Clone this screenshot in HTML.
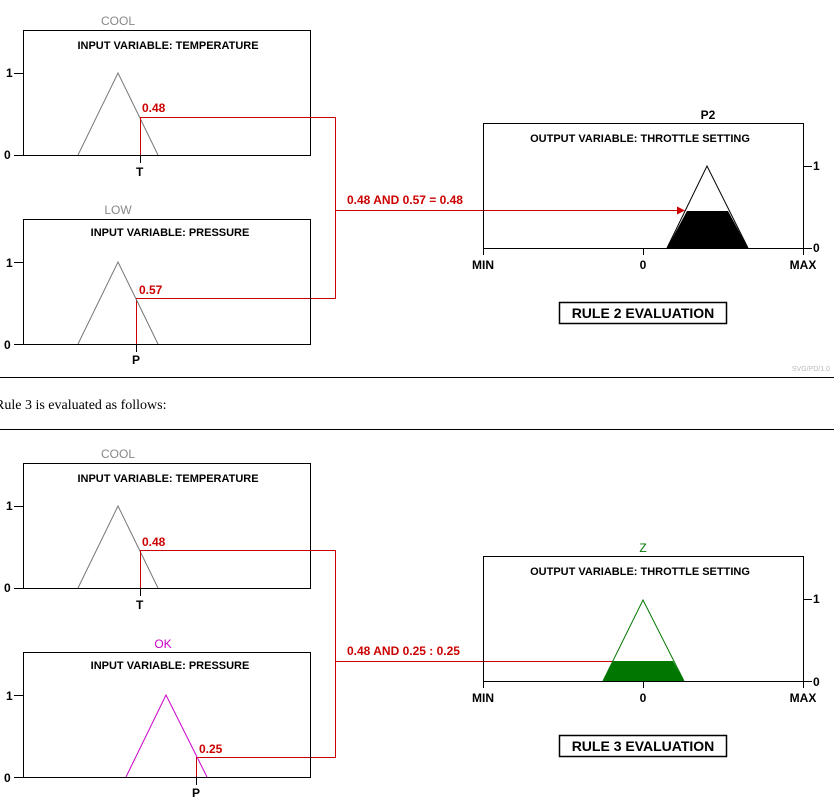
<!DOCTYPE html>
<html><head><meta charset="utf-8"><style>
html,body{margin:0;padding:0;background:#fff;width:834px;height:801px;overflow:hidden}
svg{display:block}
.t{font-family:"Liberation Sans",Arial,sans-serif;font-weight:bold;font-size:12px}
</style></head><body>
<svg width="834" height="801" xmlns="http://www.w3.org/2000/svg" class="t">
<!-- ===== RULE 2 ===== -->
<g>
<text x="118" y="25" text-anchor="middle" fill="#888" font-weight="normal">COOL</text>
<rect x="23.5" y="30.5" width="287" height="125" fill="none" stroke="#000"/>
<text x="168" y="49" text-anchor="middle" font-size="11">INPUT VARIABLE: TEMPERATURE</text>
<line x1="14" y1="73.5" x2="23" y2="73.5" stroke="#000"/><text x="6" y="77">1</text>
<line x1="14" y1="155.5" x2="23" y2="155.5" stroke="#000"/><text x="4" y="159">0</text>
<polyline points="78,155 118,73 158,155" fill="none" stroke="#777"/>
<line x1="140.5" y1="155" x2="140.5" y2="163" stroke="#000"/>
<text x="136" y="176">T</text>
<polyline points="140.5,155 140.5,117.5 335.5,117.5 335.5,298.5 136.5,298.5 136.5,344" fill="none" stroke="#c00"/>
<text x="142" y="112" fill="#c00">0.48</text>

<text x="118" y="214" text-anchor="middle" fill="#888" font-weight="normal">LOW</text>
<rect x="23.5" y="219.5" width="287" height="125" fill="none" stroke="#000"/>
<text x="170" y="236" text-anchor="middle" font-size="11">INPUT VARIABLE:  PRESSURE</text>
<line x1="14" y1="262.5" x2="23" y2="262.5" stroke="#000"/><text x="6" y="267">1</text>
<line x1="14" y1="344.5" x2="23" y2="344.5" stroke="#000"/><text x="4" y="349">0</text>
<polyline points="78,344 118,262 158,344" fill="none" stroke="#777"/>
<line x1="136.5" y1="344" x2="136.5" y2="352" stroke="#000"/>
<text x="132" y="364">P</text>
<text x="139" y="294" fill="#c00">0.57</text>

<text x="347" y="204" fill="#c00">0.48 AND 0.57 = 0.48</text>
<line x1="335" y1="210.5" x2="678" y2="210.5" stroke="#c00"/>
<polygon points="685,210.5 677,206.5 677,214.5" fill="#c00"/>

<text x="708" y="119" text-anchor="middle">P2</text>
<rect x="483.5" y="123.5" width="320" height="125" fill="none" stroke="#000"/>
<text x="640" y="142" text-anchor="middle" font-size="11">OUTPUT VARIABLE:  THROTTLE SETTING</text>
<polygon points="667,248 687,211 728,211 748,248" fill="#000"/>
<polyline points="667,248 707,166 748,248" fill="none" stroke="#000"/>
<line x1="803" y1="166.5" x2="812" y2="166.5" stroke="#000"/><text x="813" y="170">1</text>
<line x1="803" y1="248.5" x2="812" y2="248.5" stroke="#000"/><text x="813" y="252">0</text>
<line x1="483.5" y1="248" x2="483.5" y2="255" stroke="#000"/>
<line x1="643.5" y1="248" x2="643.5" y2="255" stroke="#000"/>
<line x1="803.5" y1="248" x2="803.5" y2="255" stroke="#000"/>
<text x="483" y="269" text-anchor="middle">MIN</text>
<text x="643" y="269" text-anchor="middle">0</text>
<text x="803" y="269" text-anchor="middle">MAX</text>
<rect x="559.5" y="302.5" width="167" height="21" fill="none" stroke="#000" stroke-width="1.5"/>
<text x="643" y="318" text-anchor="middle" font-size="14">RULE 2 EVALUATION</text>
<text x="830" y="371" text-anchor="end" fill="#bbb" font-size="7" font-weight="normal">SVG/PD/1.0</text>
</g>
<line x1="0" y1="377.5" x2="834" y2="377.5" stroke="#000"/>
<text x="-5" y="409" font-family="Liberation Serif,serif" font-weight="normal" font-size="14">Rule 3 is evaluated as follows:</text>
<line x1="0" y1="429.5" x2="834" y2="429.5" stroke="#000"/>

<!-- ===== RULE 3 ===== -->
<g>
<text x="118" y="458" text-anchor="middle" fill="#888" font-weight="normal">COOL</text>
<rect x="23.5" y="463.5" width="287" height="125" fill="none" stroke="#000"/>
<text x="168" y="482" text-anchor="middle" font-size="11">INPUT VARIABLE: TEMPERATURE</text>
<line x1="14" y1="506.5" x2="23" y2="506.5" stroke="#000"/><text x="6" y="510">1</text>
<line x1="14" y1="588.5" x2="23" y2="588.5" stroke="#000"/><text x="4" y="592">0</text>
<polyline points="78,588 118,506 158,588" fill="none" stroke="#777"/>
<line x1="140.5" y1="588" x2="140.5" y2="596" stroke="#000"/>
<text x="136" y="609">T</text>
<polyline points="140.5,588 140.5,550.5 335.5,550.5 335.5,757.5 196.5,757.5 196.5,777" fill="none" stroke="#c00"/>
<text x="142" y="546" fill="#c00">0.48</text>

<text x="163" y="648" text-anchor="middle" fill="#c0c" font-weight="normal">OK</text>
<rect x="23.5" y="652.5" width="287" height="125" fill="none" stroke="#000"/>
<text x="170" y="669" text-anchor="middle" font-size="11">INPUT VARIABLE:  PRESSURE</text>
<line x1="14" y1="695.5" x2="23" y2="695.5" stroke="#000"/><text x="6" y="700">1</text>
<line x1="14" y1="777.5" x2="23" y2="777.5" stroke="#000"/><text x="4" y="782">0</text>
<polyline points="126,777 166,695 207,777" fill="none" stroke="#c0c"/>
<line x1="196.5" y1="777" x2="196.5" y2="785" stroke="#000"/>
<text x="192" y="797">P</text>
<text x="199" y="753" fill="#c00">0.25</text>

<text x="347" y="655" fill="#c00">0.48 AND 0.25  : 0.25</text>
<line x1="335" y1="661.5" x2="613" y2="661.5" stroke="#c00"/>

<text x="643" y="552" text-anchor="middle" fill="#070" font-weight="normal">Z</text>
<rect x="483.5" y="556.5" width="320" height="125" fill="none" stroke="#000"/>
<text x="640" y="575" text-anchor="middle" font-size="11">OUTPUT VARIABLE:  THROTTLE SETTING</text>
<polygon points="603,681 613,661 673,661 684,681" fill="#070"/>
<polyline points="603,681 643,600 684,681" fill="none" stroke="#070"/>
<line x1="803" y1="599.5" x2="812" y2="599.5" stroke="#000"/><text x="813" y="603">1</text>
<line x1="803" y1="681.5" x2="812" y2="681.5" stroke="#000"/><text x="813" y="686">0</text>
<line x1="483.5" y1="681" x2="483.5" y2="688" stroke="#000"/>
<line x1="643.5" y1="681" x2="643.5" y2="688" stroke="#000"/>
<line x1="803.5" y1="681" x2="803.5" y2="688" stroke="#000"/>
<text x="483" y="702" text-anchor="middle">MIN</text>
<text x="643" y="702" text-anchor="middle">0</text>
<text x="803" y="702" text-anchor="middle">MAX</text>
<rect x="559.5" y="735.5" width="167" height="21" fill="none" stroke="#000" stroke-width="1.5"/>
<text x="643" y="751" text-anchor="middle" font-size="14">RULE 3 EVALUATION</text>
</g>
</svg>
</body></html>
